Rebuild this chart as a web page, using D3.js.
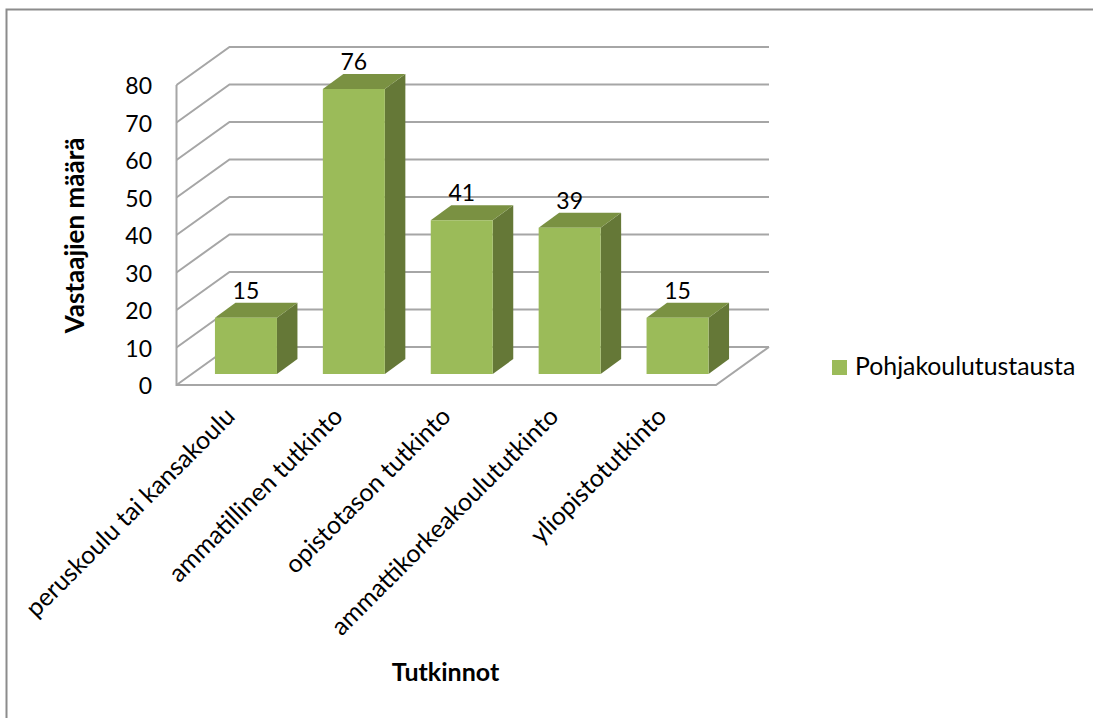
<!DOCTYPE html>
<html><head><meta charset="utf-8">
<script src="https://cdn.jsdelivr.net/npm/d3@7"></script>
<style>html,body{margin:0;padding:0;background:#fff}svg{display:block}text{font-family:Lato,"Open Sans",sans-serif;fill:#000}</style>
</head><body><svg id="c" width="1093" height="718"></svg>
<script>
const categories=["peruskoulu tai kansakoulu","ammatillinen tutkinto","opistotason tutkinto","ammattikorkeakoulututkinto","yliopistotutkinto"];
const values=[15,76,41,39,15];
const ticks=[0,10,20,30,40,50,60,70,80];
const seriesName="Pohjakoulutustausta";
const yTitle="Vastaajien määrä", xTitle="Tutkinnot";

const svg=d3.select("#c");
const gridCol="#a6a6a6";
const y=d3.scaleLinear().domain([0,80]).range([385,85]);
const x=d3.scaleBand().domain(categories).range([176.5,716]).paddingInner(0);
const dx=53,dy=-38;
const barDx=20.5,barDy=-15;
const barW=62, barShiftX=15.5, barShiftY=-11;

svg.append("path").attr("d","M6.5,718V9.5H1093").attr("fill","none").attr("stroke","#8c8c8c").attr("stroke-width",2);

const g=svg.append("g").attr("fill","none").attr("stroke",gridCol).attr("stroke-width",2);
g.selectAll("path.grid").data(ticks).join("path").attr("class","grid")
 .attr("d",t=>`M${176.5},${y(t)}L${176.5+dx},${y(t)+dy}H${716+dx}`);
g.append("path").attr("d",`M176.5,${y(80)}V${y(0)}H716L${716+dx},${y(0)+dy}`);

const bars=svg.append("g").selectAll("g").data(values).join("g");
const bx=(d,i)=>x(categories[i])+x.bandwidth()/2-barW/2+barShiftX;
const barBase=y(0)+barShiftY;
const barTop=d=>y(d)+barShiftY;
bars.append("path").attr("fill","#657837")
 .attr("d",(d,i)=>{const X=bx(d,i)+barW;return `M${X},${barTop(d)}L${X+barDx},${barTop(d)+barDy}V${barBase+barDy}L${X},${barBase}Z`;});
bars.append("path").attr("fill","#7a9142")
 .attr("d",(d,i)=>{const X=bx(d,i);return `M${X},${barTop(d)}L${X+barDx},${barTop(d)+barDy}H${X+barW+barDx}L${X+barW},${barTop(d)}Z`;});
bars.append("rect").attr("fill","#9bbb59")
 .attr("x",bx).attr("y",barTop).attr("width",barW).attr("height",d=>barBase-barTop(d));
bars.append("text").attr("text-anchor","middle").attr("font-size",23)
 .attr("x",(d,i)=>bx(d,i)+barW/2).attr("y",d=>barTop(d)-19).text(d=>d);

svg.append("g").selectAll("text").data(ticks).join("text")
 .attr("x",152).attr("y",t=>y(t)+9).attr("text-anchor","end").attr("font-size",23).text(t=>t);

svg.append("g").selectAll("text").data(categories).join("text")
 .attr("text-anchor","end").attr("font-size",25)
 .attr("transform",c=>`translate(${x(c)+x.bandwidth()/2+6},${418}) rotate(-45)`)
 .text(c=>c);

svg.append("text").attr("transform","translate(84,235.5) rotate(-90)").attr("text-anchor","middle")
 .attr("font-size",26).attr("font-weight",700).text(yTitle);
svg.append("text").attr("x",445.5).attr("y",681).attr("text-anchor","middle")
 .attr("font-size",25).attr("font-weight",700).text(xTitle);

svg.append("rect").attr("x",832).attr("y",360).attr("width",15).attr("height",15).attr("fill","#9bbb59");
svg.append("text").attr("x",855).attr("y",375).attr("font-size",24.8).text(seriesName);
</script></body></html>
